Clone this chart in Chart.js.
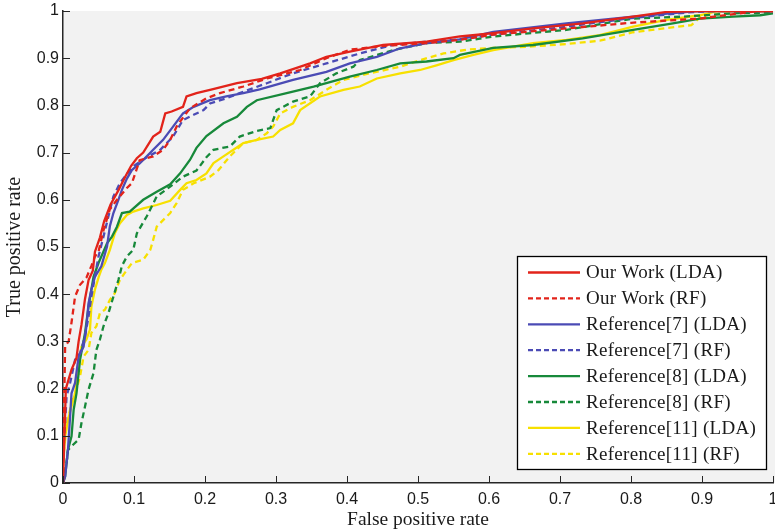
<!DOCTYPE html>
<html>
<head>
<meta charset="utf-8">
<script src="https://cdn.jsdelivr.net/npm/chart.js@4.4.1/dist/chart.umd.min.js"></script>
<style>
html,body{margin:0;padding:0;background:#fff;}
#wrap{width:775px;height:532px;}
</style>
</head>
<body>
<div id="wrap"><canvas id="c" width="775" height="532"></canvas></div>
<script>
const seriesLabels = ['Our Work (LDA)','Our Work (RF)','Reference[7] (LDA)','Reference[7] (RF)','Reference[8] (LDA)','Reference[8] (RF)','Reference[11] (LDA)','Reference[11] (RF)'];
const xTickLabels = ['0','0.1','0.2','0.3','0.4','0.5','0.6','0.7','0.8','0.9','1'];
const yTickLabels = ['0','0.1','0.2','0.3','0.4','0.5','0.6','0.7','0.8','0.9','1'];

const ourWorkLDA = [[0,0],[0.002,0.1],[0.004,0.2],[0.012,0.24],[0.019,0.265],[0.022,0.30],[0.026,0.335],[0.031,0.39],[0.036,0.43],[0.042,0.45],[0.045,0.49],[0.052,0.52],[0.058,0.555],[0.067,0.59],[0.078,0.62],[0.088,0.65],[0.096,0.672],[0.104,0.688],[0.113,0.70],[0.127,0.734],[0.137,0.744],[0.144,0.783],[0.153,0.787],[0.169,0.797],[0.174,0.819],[0.188,0.826],[0.21,0.834],[0.245,0.847],[0.28,0.856],[0.306,0.868],[0.348,0.889],[0.371,0.903],[0.404,0.914],[0.451,0.928],[0.512,0.935],[0.559,0.946],[0.606,0.953],[0.662,0.963],[0.732,0.974],[0.803,0.988],[0.85,0.998],[0.9,1],[1,1]];
const ourWorkRF = [[0,0],[0,0.1],[0.002,0.2],[0.003,0.29],[0.008,0.30],[0.012,0.34],[0.017,0.395],[0.024,0.42],[0.033,0.435],[0.04,0.46],[0.045,0.48],[0.05,0.49],[0.057,0.535],[0.066,0.58],[0.076,0.60],[0.09,0.625],[0.097,0.635],[0.108,0.684],[0.127,0.692],[0.141,0.706],[0.151,0.727],[0.16,0.755],[0.165,0.766],[0.179,0.794],[0.202,0.815],[0.221,0.826],[0.254,0.84],[0.287,0.857],[0.334,0.875],[0.371,0.9],[0.404,0.918],[0.451,0.926],[0.512,0.932],[0.559,0.939],[0.606,0.95],[0.709,0.963],[0.8,0.975],[0.897,0.984],[0.954,0.995],[0.98,1],[1,1]];
const ref7LDA = [[0,0],[0.003,0.014],[0.007,0.07],[0.01,0.141],[0.012,0.19],[0.017,0.212],[0.022,0.268],[0.029,0.289],[0.033,0.332],[0.036,0.381],[0.04,0.41],[0.045,0.437],[0.054,0.459],[0.062,0.501],[0.066,0.544],[0.071,0.572],[0.078,0.6],[0.083,0.621],[0.09,0.645],[0.097,0.663],[0.108,0.677],[0.118,0.692],[0.127,0.706],[0.141,0.727],[0.155,0.755],[0.169,0.783],[0.184,0.797],[0.207,0.811],[0.23,0.819],[0.254,0.826],[0.277,0.834],[0.324,0.854],[0.371,0.871],[0.404,0.889],[0.442,0.903],[0.475,0.921],[0.512,0.932],[0.559,0.94],[0.606,0.956],[0.709,0.974],[0.803,0.988],[0.888,0.999],[0.92,1],[1,1]];
const ref7RF = [[0,0],[0,0.06],[0.003,0.127],[0.005,0.183],[0.01,0.212],[0.017,0.261],[0.024,0.275],[0.031,0.31],[0.036,0.353],[0.04,0.395],[0.045,0.437],[0.05,0.48],[0.057,0.522],[0.064,0.565],[0.071,0.607],[0.08,0.635],[0.09,0.655],[0.1,0.672],[0.118,0.69],[0.137,0.706],[0.155,0.734],[0.169,0.769],[0.184,0.78],[0.198,0.79],[0.207,0.804],[0.23,0.815],[0.254,0.829],[0.287,0.847],[0.324,0.868],[0.371,0.889],[0.418,0.91],[0.465,0.928],[0.512,0.935],[0.559,0.94],[0.606,0.95],[0.7,0.965],[0.8,0.985],[0.88,0.997],[0.92,1],[1,1]];
const ref8LDA = [[0,0],[0.003,0.014],[0.005,0.042],[0.007,0.07],[0.012,0.099],[0.015,0.155],[0.019,0.19],[0.024,0.261],[0.031,0.318],[0.036,0.374],[0.04,0.41],[0.043,0.437],[0.05,0.466],[0.054,0.48],[0.062,0.508],[0.069,0.522],[0.076,0.543],[0.083,0.572],[0.094,0.575],[0.113,0.6],[0.132,0.617],[0.151,0.633],[0.165,0.656],[0.179,0.685],[0.188,0.71],[0.202,0.735],[0.226,0.762],[0.245,0.776],[0.259,0.797],[0.273,0.811],[0.315,0.826],[0.353,0.84],[0.404,0.861],[0.442,0.875],[0.475,0.889],[0.512,0.893],[0.55,0.9],[0.559,0.907],[0.606,0.922],[0.662,0.928],[0.732,0.942],[0.803,0.96],[0.859,0.974],[0.897,0.984],[0.944,0.988],[0.982,0.991],[1,0.995]];
const ref8RF = [[0,0],[0.005,0.042],[0.007,0.07],[0.012,0.078],[0.022,0.092],[0.026,0.127],[0.031,0.162],[0.036,0.198],[0.043,0.233],[0.047,0.282],[0.052,0.304],[0.057,0.332],[0.064,0.36],[0.071,0.395],[0.078,0.43],[0.083,0.46],[0.09,0.48],[0.099,0.494],[0.104,0.529],[0.118,0.565],[0.132,0.607],[0.151,0.628],[0.169,0.649],[0.188,0.662],[0.202,0.69],[0.212,0.706],[0.235,0.713],[0.249,0.734],[0.273,0.746],[0.292,0.752],[0.301,0.79],[0.324,0.808],[0.348,0.819],[0.362,0.847],[0.385,0.868],[0.409,0.882],[0.418,0.896],[0.465,0.917],[0.512,0.932],[0.559,0.935],[0.606,0.946],[0.709,0.96],[0.803,0.984],[0.873,0.988],[0.944,0.995],[1,0.997]];
const ref11LDA = [[0,0],[0,0.042],[0.003,0.099],[0.007,0.134],[0.012,0.162],[0.017,0.19],[0.022,0.247],[0.026,0.289],[0.033,0.304],[0.038,0.325],[0.04,0.374],[0.045,0.41],[0.05,0.435],[0.054,0.452],[0.059,0.466],[0.066,0.494],[0.073,0.529],[0.08,0.55],[0.09,0.568],[0.099,0.575],[0.113,0.582],[0.132,0.589],[0.151,0.598],[0.165,0.621],[0.174,0.635],[0.188,0.642],[0.202,0.656],[0.212,0.678],[0.226,0.692],[0.24,0.706],[0.254,0.72],[0.273,0.727],[0.296,0.734],[0.306,0.748],[0.324,0.762],[0.334,0.79],[0.362,0.819],[0.395,0.833],[0.418,0.84],[0.442,0.857],[0.475,0.868],[0.503,0.875],[0.526,0.885],[0.55,0.896],[0.578,0.907],[0.606,0.917],[0.662,0.932],[0.709,0.939],[0.756,0.949],[0.803,0.967],[0.85,0.981],[0.897,0.991],[0.92,0.999],[1,1]];
const ref11RF = [[0,0],[0,0.05],[0.005,0.12],[0.012,0.17],[0.019,0.198],[0.024,0.226],[0.029,0.268],[0.036,0.282],[0.04,0.318],[0.047,0.332],[0.052,0.36],[0.059,0.367],[0.066,0.388],[0.073,0.402],[0.08,0.43],[0.087,0.445],[0.097,0.466],[0.113,0.473],[0.123,0.494],[0.127,0.515],[0.132,0.543],[0.141,0.557],[0.151,0.572],[0.16,0.593],[0.169,0.621],[0.184,0.635],[0.207,0.649],[0.219,0.663],[0.235,0.692],[0.254,0.72],[0.273,0.727],[0.287,0.741],[0.296,0.755],[0.306,0.783],[0.324,0.797],[0.348,0.811],[0.371,0.833],[0.395,0.854],[0.432,0.868],[0.475,0.882],[0.503,0.896],[0.536,0.91],[0.568,0.918],[0.606,0.922],[0.653,0.924],[0.709,0.93],[0.756,0.937],[0.803,0.955],[0.873,0.968],[0.885,0.97],[0.9,0.99],[0.95,0.997],[1,1]];

const seriesData = [ourWorkLDA, ourWorkRF, ref7LDA, ref7RF, ref8LDA, ref8RF, ref11LDA, ref11RF];
const seriesColors = ['#e2231a','#e2231a','#4b4bb5','#4b4bb5','#17893a','#17893a','#f7e000','#f7e000'];
const seriesDashed = [false,true,false,true,false,true,false,true];

const AXIS_COLOR = '#262626';
const TICK_FONT = {family:"'Liberation Sans', Arial, Helvetica, sans-serif", size:16};
const SERIF = "'Liberation Serif', 'Times New Roman', Times, serif";

const datasets = seriesData.map((pts, i) => ({
  label: seriesLabels[i],
  data: pts.map(p => ({x:p[0], y:p[1]})),
  borderColor: seriesColors[i],
  backgroundColor: seriesColors[i],
  borderWidth: 2.3,
  borderDash: seriesDashed[i] ? [6,4] : [],
  pointRadius: 0,
  showLine: true,
  tension: 0,
  fill: false
}));

const bgPlugin = {
  id: 'plotBg',
  beforeDraw(chart) {
    const {ctx, chartArea:a} = chart;
    ctx.save();
    ctx.fillStyle = '#f2f2f2';
    ctx.fillRect(a.left, a.top, chart.width - a.left, a.bottom - a.top);
    ctx.restore();
  }
};

const innerTicks = {
  id: 'innerTicks',
  afterDatasetsDraw(chart) {
    const {ctx, chartArea:a, scales:{x, y}} = chart;
    ctx.save();
    ctx.strokeStyle = AXIS_COLOR;
    ctx.lineWidth = 1;
    xTickLabels.forEach(t => {
      const px = Math.round(x.getPixelForValue(parseFloat(t))) + 0.5;
      ctx.beginPath(); ctx.moveTo(px, a.bottom); ctx.lineTo(px, a.bottom - 7); ctx.stroke();
    });
    yTickLabels.forEach(t => {
      const py = Math.round(y.getPixelForValue(parseFloat(t))) + 0.5;
      ctx.beginPath(); ctx.moveTo(a.left, py); ctx.lineTo(a.left + 7, py); ctx.stroke();
    });
    ctx.restore();
  }
};

const boxLegend = {
  id: 'boxLegend',
  afterDraw(chart) {
    const {ctx} = chart;
    const bx = 517, by = 256, bw = 249, bh = 213;
    ctx.save();
    ctx.fillStyle = '#ffffff';
    ctx.fillRect(bx, by, bw, bh);
    ctx.strokeStyle = '#000';
    ctx.lineWidth = 1.3;
    ctx.strokeRect(bx + 0.5, by + 0.5, bw, bh);
    ctx.font = '19px ' + SERIF;
    try { ctx.letterSpacing = '0.3px'; } catch (e) {}
    ctx.textBaseline = 'middle';
    ctx.fillStyle = '#1a1a1a';
    chart.data.datasets.forEach((ds, i) => {
      const yy = 272.5 + i * 25.9;
      ctx.strokeStyle = ds.borderColor;
      ctx.lineWidth = 2.3;
      ctx.setLineDash(ds.borderDash.length ? [5,3] : []);
      ctx.beginPath(); ctx.moveTo(528, yy); ctx.lineTo(580, yy); ctx.stroke();
      ctx.setLineDash([]);
      ctx.fillText(ds.label, 586, yy + 1);
    });
    ctx.restore();
  }
};

new Chart(document.getElementById('c'), {
  type: 'scatter',
  data: {datasets},
  plugins: [bgPlugin, innerTicks, boxLegend],
  options: {
    responsive: false,
    animation: false,
    events: [],
    layout: {padding: {top: 11, right: 2, left: 0, bottom: 0}},
    plugins: {legend: {display: false}, tooltip: {enabled: false}},
    scales: {
      x: {
        type: 'linear', min: 0, max: 1,
        afterFit(s) { s.height = 49; s.paddingLeft = 0; s.paddingRight = 0; },
        afterBuildTicks(s) { s.ticks = xTickLabels.map(t => ({value: parseFloat(t)})); },
        ticks: {font: TICK_FONT, color: '#1a1a1a', padding: 7, maxRotation: 0, autoSkip: false,
          callback: (v, i) => xTickLabels[i]},
        grid: {display: false, drawTicks: false},
        border: {display: true, color: AXIS_COLOR, width: 1.5},
        title: {display: true, text: 'False positive rate', font: {family: SERIF, size: 19.5}, color: '#1a1a1a', padding: {top: 0, bottom: 0}}
      },
      y: {
        type: 'linear', min: 0, max: 1,
        afterFit(s) { s.width = 63; s.paddingTop = 0; s.paddingBottom = 0; },
        afterBuildTicks(s) { s.ticks = yTickLabels.map(t => ({value: parseFloat(t)})); },
        ticks: {font: TICK_FONT, color: '#1a1a1a', padding: 4, autoSkip: false,
          callback: (v, i) => yTickLabels[i]},
        grid: {display: false, drawTicks: false},
        border: {display: true, color: AXIS_COLOR, width: 1.5},
        title: {display: true, text: 'True positive rate', font: {family: SERIF, size: 20}, color: '#1a1a1a', padding: {top: 3, bottom: 0}}
      }
    }
  }
});
</script>
</body>
</html>
